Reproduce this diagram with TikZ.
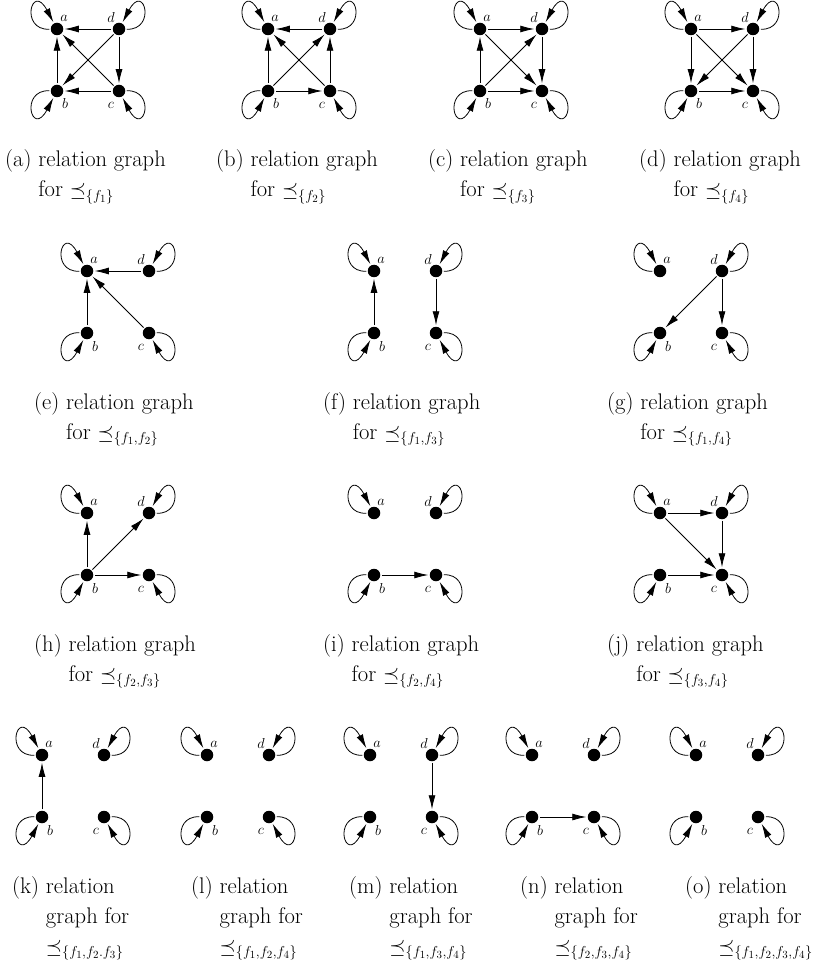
\documentclass[tikz,border=0pt]{standalone}
\usepackage{fontspec}
\usetikzlibrary{arrows.meta}
\tikzset{
  vtx/.style={circle, fill=black, draw=none, inner sep=0pt, minimum size=12.5pt, outer sep=1.5pt},
  rel/.style={-{Latex[length=14pt,width=7pt]}, line width=0.8pt},
  lbl/.style={inner sep=0pt, font=\fontsize{13.5}{15}\selectfont},
  captext/.style={anchor=base west, inner sep=0pt, font=\fontsize{22.6}{30}\selectfont},
  selfloop/.style={rel, out min distance=30pt, in min distance=46pt},
}
% #1 prefix, #2 x of a, #3 y of a (pixels, downwards)
\newcommand\relg[3]{%
  \node[vtx] (#1a) at (#2,-#3) {};
  \node[vtx] (#1d) at (#2+62,-#3) {};
  \node[vtx] (#1b) at (#2,-#3-62) {};
  \node[vtx] (#1c) at (#2+62,-#3-62) {};
  \node[lbl] (#1la) at ([shift={(7,11)}]#1a.center) {$a$};
  \node[lbl] (#1ld) at ([shift={(-8,11.5)}]#1d.center) {$d$};
  \node[lbl] (#1lb) at ([shift={(8,-13)}]#1b.center) {$b$};
  \node[lbl] (#1lc) at ([shift={(-8,-14)}]#1c.center) {$c$};
  \draw[selfloop] (#1a) to[out=182,in=118] (#1a);
  \draw[selfloop] (#1d) to[out=-2,in=62] (#1d);
  \draw[selfloop] (#1b) to[out=178,in=242] (#1b);
  \draw[selfloop] (#1c) to[out=2,in=298] (#1c);
}
\begin{document}
\begin{tikzpicture}[x=1pt,y=1pt]
\useasboundingbox (0,0) rectangle (832,-965);
% ---------- row 1 ----------
\relg{ga}{57}{29}
\foreach \s/\t in {d/a,b/a,c/b,d/c,d/b,c/a} \draw[rel] (ga\s) -- (ga\t);
\relg{gb}{268}{29}
\foreach \s/\t in {d/a,b/a,b/c,c/d,b/d,c/a} \draw[rel] (gb\s) -- (gb\t);
\relg{gc}{480}{29}
\foreach \s/\t in {a/d,b/a,b/c,d/c,b/d,a/c} \draw[rel] (gc\s) -- (gc\t);
\relg{gd}{691}{29}
\foreach \s/\t in {a/d,a/b,b/c,d/c,d/b,a/c} \draw[rel] (gd\s) -- (gd\t);
\node[captext] (capa1) at (5,-167) {(a) relation graph};
\node[captext] (capa2) at (5,-197) {\hphantom{(a) }for $\preceq_{\{f_1\}}$};
\node[captext] (capb1) at (216,-167) {(b) relation graph};
\node[captext] (capb2) at (216,-197) {\hphantom{(b) }for $\preceq_{\{f_2\}}$};
\node[captext] (capc1) at (428,-167) {(c) relation graph};
\node[captext] (capc2) at (428,-197) {\hphantom{(c) }for $\preceq_{\{f_3\}}$};
\node[captext] (capd1) at (639,-167) {(d) relation graph};
\node[captext] (capd2) at (639,-197) {\hphantom{(d) }for $\preceq_{\{f_4\}}$};
% ---------- row 2 ----------
\relg{ge}{87}{271}
\foreach \s/\t in {d/a,b/a,c/a} \draw[rel] (ge\s) -- (ge\t);
\relg{gf}{374}{271}
\foreach \s/\t in {b/a,d/c} \draw[rel] (gf\s) -- (gf\t);
\relg{gg}{660}{271}
\foreach \s/\t in {d/b,d/c} \draw[rel] (gg\s) -- (gg\t);
\node[captext] (cape1) at (34,-409) {(e) relation graph};
\node[captext] (cape2) at (34,-439) {\hphantom{(e) }for $\preceq_{\{f_1,f_2\}}$};
\node[captext] (capf1) at (323,-409) {(f) relation graph};
\node[captext] (capf2) at (323,-439) {\hphantom{(f) }for $\preceq_{\{f_1,f_3\}}$};
\node[captext] (capg1) at (607,-409) {(g) relation graph};
\node[captext] (capg2) at (607,-439) {\hphantom{(g) }for $\preceq_{\{f_1,f_4\}}$};
% ---------- row 3 ----------
\relg{gh}{87}{513}
\foreach \s/\t in {b/a,b/d,b/c} \draw[rel] (gh\s) -- (gh\t);
\relg{gi}{374}{513}
\foreach \s/\t in {b/c} \draw[rel] (gi\s) -- (gi\t);
\relg{gj}{660}{513}
\foreach \s/\t in {a/d,d/c,a/c,b/c} \draw[rel] (gj\s) -- (gj\t);
\node[captext] (caph1) at (34,-651) {(h) relation graph};
\node[captext] (caph2) at (34,-681) {\hphantom{(h) }for $\preceq_{\{f_2,f_3\}}$};
\node[captext] (capi1) at (323,-651) {(i) relation graph};
\node[captext] (capi2) at (323,-681) {\hphantom{(i) }for $\preceq_{\{f_2,f_4\}}$};
\node[captext] (capj1) at (607,-651) {(j) relation graph};
\node[captext] (capj2) at (607,-681) {\hphantom{(j) }for $\preceq_{\{f_3,f_4\}}$};
% ---------- row 4 ----------
\relg{gk}{42}{755}
\draw[rel] (gkb) -- (gka);
\relg{gl}{207}{755}
\relg{gm}{370}{755}
\draw[rel] (gmd) -- (gmc);
\relg{gn}{532}{755}
\draw[rel] (gnb) -- (gnc);
\relg{go}{696}{755}
\node[captext] (capk1) at (12,-893) {(k) relation};
\node[captext] (capk2) at (12,-923) {\hphantom{(k) }graph for};
\node[captext] (capk3) at (12,-953) {\hphantom{(k) }$\preceq_{\{f_1,f_2.f_3\}}$};
\node[captext] (capl1) at (191,-893) {(l) relation};
\node[captext] (capl2) at (191,-923) {\hphantom{(l) }graph for};
\node[captext] (capl3) at (191,-953) {\hphantom{(l) }$\preceq_{\{f_1,f_2,f_4\}}$};
\node[captext] (capm1) at (349,-893) {(m) relation};
\node[captext] (capm2) at (349,-923) {\hphantom{(m) }graph for};
\node[captext] (capm3) at (349,-953) {\hphantom{(m) }$\preceq_{\{f_1,f_3,f_4\}}$};
\node[captext] (capn1) at (520,-893) {(n) relation};
\node[captext] (capn2) at (520,-923) {\hphantom{(n) }graph for};
\node[captext] (capn3) at (520,-953) {\hphantom{(n) }$\preceq_{\{f_2,f_3,f_4\}}$};
\node[captext] (capo1) at (685,-893) {(o) relation};
\node[captext] (capo2) at (685,-923) {\hphantom{(o) }graph for};
\node[captext] (capo3) at (685,-953) {\hphantom{(o) }$\preceq_{\{f_1,f_2,f_3,f_4\}}$};
\end{tikzpicture}
\end{document}
